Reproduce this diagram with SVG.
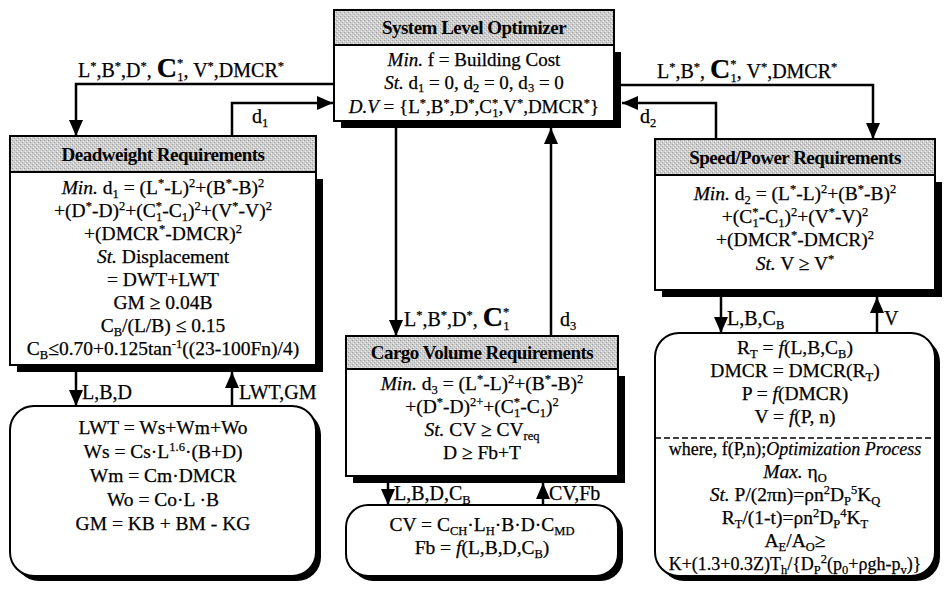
<svg xmlns="http://www.w3.org/2000/svg" width="945" height="594" viewBox="0 0 945 594">
  <style>
    .t { font-family: "Liberation Serif", "Times New Roman", serif; font-size: 19.5px; fill: #000; stroke: #000; stroke-width: 0.25px; text-anchor: middle; }
    .t18 { font-size: 18px; }
    .t19 { font-size: 19px; }
    .l { font-family: "Liberation Serif", "Times New Roman", serif; font-size: 20px; fill: #000; stroke: #000; stroke-width: 0.25px; text-anchor: start; }
    .h { font-family: "Liberation Serif", "Times New Roman", serif; font-size: 19px; font-weight: bold; fill: #000; text-anchor: middle; letter-spacing: -0.5px; }
    .s { font-size: 12.5px; }
    .i { font-style: italic; }
    .big { font-size: 28px; font-weight: bold; }
    .box { fill: #fff; stroke: #000; stroke-width: 2; }
    .hdr { fill: url(#grain); stroke: #000; stroke-width: 2; }
    .sh { fill: #000; }
    .wire { fill: none; stroke: #000; stroke-width: 2.5; }
    .arr { marker-end: url(#ah); }
    .dash { stroke: #000; stroke-width: 1.5; stroke-dasharray: 6 3; }
  </style>
  <defs>
    <pattern id="grain" width="4" height="4" patternUnits="userSpaceOnUse">
      <rect width="4" height="4" fill="#cdcdcd"/>
      <rect x="0" y="0" width="1" height="1" fill="#9c9c9c"/>
      <rect x="2" y="2" width="1" height="1" fill="#a8a8a8"/>
      <rect x="1" y="3" width="1" height="1" fill="#efefef"/>
      <rect x="3" y="1" width="1" height="1" fill="#f2f2f2"/>
    </pattern>
    <marker id="ah" viewBox="0 0 16 14" refX="16" refY="7" markerWidth="16" markerHeight="14" markerUnits="userSpaceOnUse" orient="auto">
      <path d="M0,0 L16,7 L0,14 z" fill="#000"/>
    </marker>
  </defs>
  <rect width="945" height="594" fill="#fff"/>

  <!-- System level optimizer -->
  <g id="node-system">
    <rect class="sh" x="341" y="52" width="280" height="76"/>
    <rect class="box" x="334" y="45" width="280" height="76"/>
    <rect class="hdr" x="334" y="10" width="280" height="35"/>
    <text class="h" x="474" y="34">System Level Optimizer</text>
    <text class="t t19" x="474" y="66"><tspan class="i">Min.</tspan> f = Building Cost</text>
    <text class="t t19" x="474" y="89"><tspan class="i">St.</tspan> d<tspan class="s" dy="3">1</tspan><tspan dy="-3"> = 0, d</tspan><tspan class="s" dy="3">2</tspan><tspan dy="-3"> = 0, d</tspan><tspan class="s" dy="3">3</tspan><tspan dy="-3"> = 0</tspan></text>
    <text class="t t19" x="474" y="113"><tspan class="i">D.V</tspan> = {L<tspan class="s" dy="-6">*</tspan><tspan dy="6">,B</tspan><tspan class="s" dy="-6">*</tspan><tspan dy="6">,D</tspan><tspan class="s" dy="-6">*</tspan><tspan dy="6">,C</tspan><tspan class="s" dy="-6">*</tspan><tspan class="s" dx="-6" dy="10">1</tspan><tspan dy="-4">,V</tspan><tspan class="s" dy="-6">*</tspan><tspan dy="6">,DMCR</tspan><tspan class="s" dy="-6">*</tspan><tspan dy="6">}</tspan></text>
  </g>

  <!-- Deadweight subsystem -->
  <g id="node-deadweight">
    <rect class="sh" x="17" y="179" width="306" height="193"/>
    <rect class="box" x="10" y="172" width="306" height="193"/>
    <rect class="hdr" x="10" y="136" width="306" height="36"/>
    <text class="h" x="163" y="161">Deadweight Requirements</text>
    <text class="t" x="163" y="194"><tspan class="i">Min.</tspan> d<tspan class="s" dy="4">1</tspan><tspan dy="-4"> = (L</tspan><tspan class="s" dy="-7">*</tspan><tspan dy="7">-L)</tspan><tspan class="s" dy="-7">2</tspan><tspan dy="7">+(B</tspan><tspan class="s" dy="-7">*</tspan><tspan dy="7">-B)</tspan><tspan class="s" dy="-7">2</tspan></text>
    <text class="t" x="163" y="217">+(D<tspan class="s" dy="-7">*</tspan><tspan dy="7">-D)</tspan><tspan class="s" dy="-7">2</tspan><tspan dy="7">+(C</tspan><tspan class="s" dy="-7">*</tspan><tspan class="s" dx="-6" dy="11">1</tspan><tspan dy="-4">-C</tspan><tspan class="s" dy="4">1</tspan><tspan dy="-4">)</tspan><tspan class="s" dy="-7">2</tspan><tspan dy="7">+(V</tspan><tspan class="s" dy="-7">*</tspan><tspan dy="7">-V)</tspan><tspan class="s" dy="-7">2</tspan></text>
    <text class="t" x="163" y="240">+(DMCR<tspan class="s" dy="-7">*</tspan><tspan dy="7">-DMCR)</tspan><tspan class="s" dy="-7">2</tspan></text>
    <text class="t" x="163" y="263"><tspan class="i">St.</tspan> Displacement</text>
    <text class="t" x="163" y="286">= DWT+LWT</text>
    <text class="t" x="163" y="309">GM ≥ 0.04B</text>
    <text class="t" x="163" y="332">C<tspan class="s" dy="4">B</tspan><tspan dy="-4">/(L/B) ≤ 0.15</tspan></text>
    <text class="t" x="163" y="355">C<tspan class="s" dy="4">B</tspan><tspan dy="-4">≤0.70+0.125tan</tspan><tspan class="s" dy="-7">-1</tspan><tspan dy="7">((23-100Fn)/4)</tspan></text>
  </g>

  <g id="node-deadweight-calc">
    <rect class="sh" x="15" y="411" width="306" height="170" rx="24"/>
    <rect class="box" x="10" y="406" width="306" height="170" rx="24"/>
    <text class="t" x="163" y="434">LWT = Ws+Wm+Wo</text>
    <text class="t" x="163" y="458">Ws = Cs·L<tspan class="s" dy="-7">1.6</tspan><tspan dy="7">·(B+D)</tspan></text>
    <text class="t" x="163" y="482">Wm = Cm·DMCR</text>
    <text class="t" x="163" y="506">Wo = Co·L ·B</text>
    <text class="t" x="163" y="530">GM = KB + BM - KG</text>
  </g>

  <!-- Cargo volume subsystem -->
  <g id="node-cargo">
    <rect class="sh" x="353" y="376" width="272" height="107"/>
    <rect class="box" x="346" y="369" width="272" height="107"/>
    <rect class="hdr" x="346" y="336" width="272" height="33"/>
    <text class="h" x="482" y="359">Cargo Volume Requirements</text>
    <text class="t" x="482" y="390"><tspan class="i">Min.</tspan> d<tspan class="s" dy="4">3</tspan><tspan dy="-4"> = (L</tspan><tspan class="s" dy="-7">*</tspan><tspan dy="7">-L)</tspan><tspan class="s" dy="-7">2</tspan><tspan dy="7">+(B</tspan><tspan class="s" dy="-7">*</tspan><tspan dy="7">-B)</tspan><tspan class="s" dy="-7">2</tspan></text>
    <text class="t" x="482" y="413">+(D<tspan class="s" dy="-7">*</tspan><tspan dy="7">-D)</tspan><tspan class="s" dy="-7">2+</tspan><tspan dy="7">+(C</tspan><tspan class="s" dy="-7">*</tspan><tspan class="s" dx="-6" dy="11">1</tspan><tspan dy="-4">-C</tspan><tspan class="s" dy="4">1</tspan><tspan dy="-4">)</tspan><tspan class="s" dy="-7">2</tspan></text>
    <text class="t" x="482" y="436"><tspan class="i">St.</tspan> CV ≥ CV<tspan class="s" dy="4">req</tspan></text>
    <text class="t" x="482" y="459">D ≥ Fb+T</text>
  </g>

  <g id="node-cargo-calc">
    <rect class="sh" x="351" y="510" width="272" height="71" rx="22"/>
    <rect class="box" x="346" y="505" width="272" height="71" rx="22"/>
    <text class="t" x="482" y="531">CV = C<tspan class="s" dy="4">CH</tspan><tspan dy="-4">·L</tspan><tspan class="s" dy="4">H</tspan><tspan dy="-4">·B·D·C</tspan><tspan class="s" dy="4">MD</tspan></text>
    <text class="t" x="482" y="554">Fb = <tspan class="i">f</tspan>(L,B,D,C<tspan class="s" dy="4">B</tspan><tspan dy="-4">)</tspan></text>
  </g>

  <!-- Speed / power subsystem -->
  <g id="node-speed">
    <rect class="sh" x="662" y="182" width="280" height="115"/>
    <rect class="box" x="655" y="175" width="280" height="115"/>
    <rect class="hdr" x="655" y="139" width="280" height="36"/>
    <text class="h" x="795" y="164">Speed/Power Requirements</text>
    <text class="t" x="795" y="200"><tspan class="i">Min.</tspan> d<tspan class="s" dy="4">2</tspan><tspan dy="-4"> = (L</tspan><tspan class="s" dy="-7">*</tspan><tspan dy="7">-L)</tspan><tspan class="s" dy="-7">2</tspan><tspan dy="7">+(B</tspan><tspan class="s" dy="-7">*</tspan><tspan dy="7">-B)</tspan><tspan class="s" dy="-7">2</tspan></text>
    <text class="t" x="795" y="223">+(C<tspan class="s" dy="-7">*</tspan><tspan class="s" dx="-6" dy="11">1</tspan><tspan dy="-4">-C</tspan><tspan class="s" dy="4">1</tspan><tspan dy="-4">)</tspan><tspan class="s" dy="-7">2</tspan><tspan dy="7">+(V</tspan><tspan class="s" dy="-7">*</tspan><tspan dy="7">-V)</tspan><tspan class="s" dy="-7">2</tspan></text>
    <text class="t" x="795" y="246">+(DMCR<tspan class="s" dy="-7">*</tspan><tspan dy="7">-DMCR)</tspan><tspan class="s" dy="-7">2</tspan></text>
    <text class="t" x="795" y="270"><tspan class="i">St.</tspan> V ≥ V<tspan class="s" dy="-7">*</tspan></text>
  </g>

  <g id="node-speed-calc">
    <rect class="sh" x="660" y="338" width="280" height="243" rx="24"/>
    <rect class="box" x="655" y="333" width="280" height="243" rx="24"/>
    <text class="t" x="795" y="354">R<tspan class="s" dy="4">T</tspan><tspan dy="-4"> = </tspan><tspan class="i">f</tspan>(L,B,C<tspan class="s" dy="4">B</tspan><tspan dy="-4">)</tspan></text>
    <text class="t" x="795" y="377">DMCR = DMCR(R<tspan class="s" dy="4">T</tspan><tspan dy="-4">)</tspan></text>
    <text class="t" x="795" y="400">P = <tspan class="i">f</tspan>(DMCR)</text>
    <text class="t" x="795" y="423">V = <tspan class="i">f</tspan>(P, n)</text>
    <line class="dash" x1="655" y1="438" x2="935" y2="438"/>
    <text class="t t18" x="795" y="455">where, f(P,n);<tspan class="i">Optimization Process</tspan></text>
    <text class="t" x="795" y="478"><tspan class="i">Max.</tspan> η<tspan class="s" dy="4">O</tspan></text>
    <text class="t" x="795" y="501"><tspan class="i">St.</tspan> P/(2πn)=ρn<tspan class="s" dy="-7">2</tspan><tspan dy="7">D</tspan><tspan class="s" dy="4">P</tspan><tspan class="s" dy="-11">5</tspan><tspan dy="7">K</tspan><tspan class="s" dy="4">Q</tspan></text>
    <text class="t" x="795" y="524">R<tspan class="s" dy="4">T</tspan><tspan dy="-4">/(1-t)=ρn</tspan><tspan class="s" dy="-7">2</tspan><tspan dy="7">D</tspan><tspan class="s" dy="4">P</tspan><tspan class="s" dy="-11">4</tspan><tspan dy="7">K</tspan><tspan class="s" dy="4">T</tspan></text>
    <text class="t" x="795" y="547">A<tspan class="s" dy="4">E</tspan><tspan dy="-4">/A</tspan><tspan class="s" dy="4">O</tspan><tspan dy="-4">≥</tspan></text>
    <text class="t t18" x="795" y="570">K+(1.3+0.3Z)T<tspan class="s" dy="4">h</tspan><tspan dy="-4">/{D</tspan><tspan class="s" dy="4">P</tspan><tspan class="s" dy="-11">2</tspan><tspan dy="7">(p</tspan><tspan class="s" dy="4">0</tspan><tspan dy="-4">+ρgh-p</tspan><tspan class="s" dy="4">v</tspan><tspan dy="-4">)}</tspan></text>
  </g>

  <!-- Connectors and their labels -->
  <g id="connectors">
    <path class="wire arr" d="M334,84 H76 V136"/>
    <path class="wire arr" d="M232,136 V103 H333"/>
    <path class="wire arr" d="M621,85 H873 V139"/>
    <path class="wire arr" d="M716,139 V103 H622"/>
    <path class="wire arr" d="M396,128 V336"/>
    <path class="wire arr" d="M551,336 V128"/>
    <path class="wire arr" d="M76,372 V406"/>
    <path class="wire arr" d="M232,406 V372"/>
    <path class="wire arr" d="M388,483 V505"/>
    <path class="wire arr" d="M543,505 V483"/>
    <path class="wire arr" d="M721,297 V333"/>
    <path class="wire arr" d="M877,333 V297"/>

    <text class="l" x="78" y="77">L<tspan class="s" dy="-7">*</tspan><tspan dy="7">,B</tspan><tspan class="s" dy="-7">*</tspan><tspan dy="7">,D</tspan><tspan class="s" dy="-7">*</tspan><tspan dy="7">, </tspan><tspan class="big">C</tspan><tspan class="s" dy="-10">*</tspan><tspan class="s" dx="-6" dy="14">1</tspan><tspan dy="-4">, V</tspan><tspan class="s" dy="-7">*</tspan><tspan dy="7">,DMCR</tspan><tspan class="s" dy="-7">*</tspan></text>
    <text class="l" x="252" y="123">d<tspan class="s" dy="4">1</tspan></text>
    <text class="l" x="657" y="78">L<tspan class="s" dy="-7">*</tspan><tspan dy="7">,B</tspan><tspan class="s" dy="-7">*</tspan><tspan dy="7">, </tspan><tspan class="big">C</tspan><tspan class="s" dy="-10">*</tspan><tspan class="s" dx="-6" dy="14">1</tspan><tspan dy="-4">, V</tspan><tspan class="s" dy="-7">*</tspan><tspan dy="7">,DMCR</tspan><tspan class="s" dy="-7">*</tspan></text>
    <text class="l" x="640" y="123">d<tspan class="s" dy="4">2</tspan></text>
    <text class="l" x="404" y="326">L<tspan class="s" dy="-7">*</tspan><tspan dy="7">,B</tspan><tspan class="s" dy="-7">*</tspan><tspan dy="7">,D</tspan><tspan class="s" dy="-7">*</tspan><tspan dy="7">, </tspan><tspan class="big">C</tspan><tspan class="s" dy="-10">*</tspan><tspan class="s" dx="-6" dy="14">1</tspan></text>
    <text class="l" x="560" y="326">d<tspan class="s" dy="4">3</tspan></text>
    <text class="l" x="82" y="399">L,B,D</text>
    <text class="l" x="239" y="399">LWT,GM</text>
    <text class="l" x="394" y="500">L,B,D,C<tspan class="s" dy="4">B</tspan></text>
    <text class="l" x="549" y="500">CV,Fb</text>
    <text class="l" x="727" y="325">L,B,C<tspan class="s" dy="4">B</tspan></text>
    <text class="l" x="884" y="325">V</text>
  </g>
</svg>
